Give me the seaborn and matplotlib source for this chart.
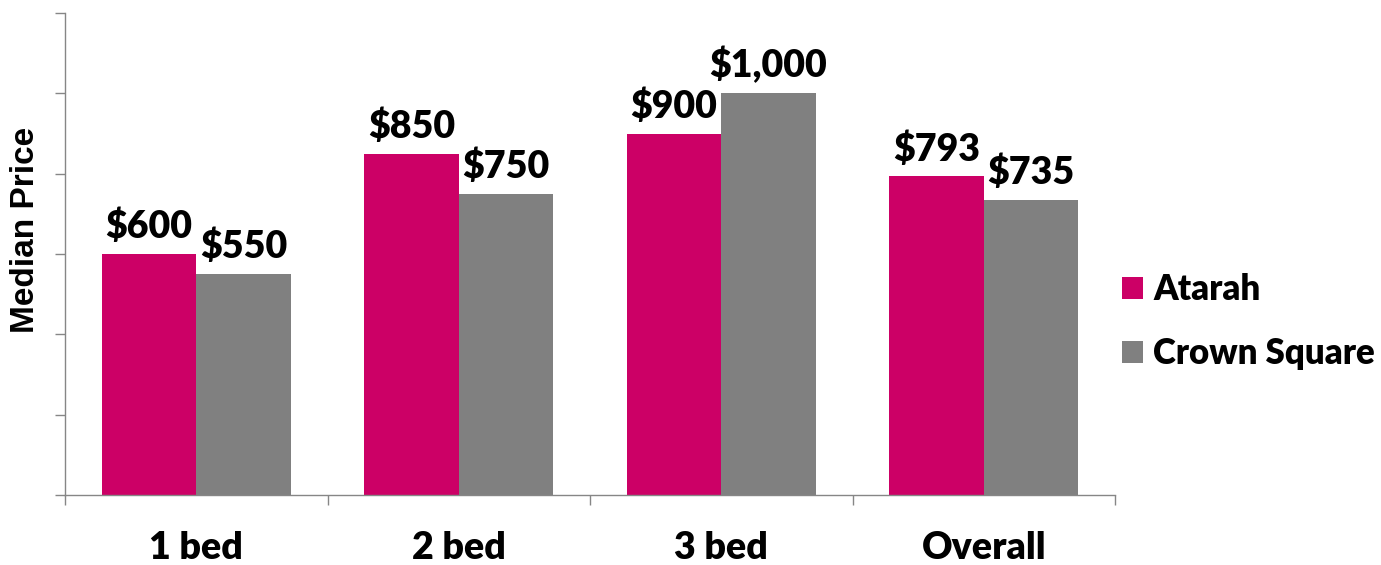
import matplotlib
matplotlib.use("Agg")
import matplotlib.pyplot as plt
import pandas as pd
import seaborn as sns

categories = ["1 bed", "2 bed", "3 bed", "Overall"]
atarah = [600, 850, 900, 793]
crown_square = [550, 750, 1000, 735]
series_names = ["Atarah", "Crown Square"]
colors = ["#CC0066", "#808080"]

df = pd.DataFrame({
    "Bedrooms": categories * 2,
    "Price": atarah + crown_square,
    "Complex": [series_names[0]] * 4 + [series_names[1]] * 4,
})

sns.set_style("white")
plt.rcParams["font.family"] = ["Lato", "DejaVu Sans"]
plt.rcParams["text.color"] = "black"
plt.rcParams["xtick.color"] = "black"

fig = plt.figure(figsize=(13.81, 5.65), dpi=100)
ax = fig.add_axes([65 / 1381, 70 / 565, 1050 / 1381, 482 / 565])

sns.barplot(data=df, x="Bedrooms", y="Price", hue="Complex", palette=colors,
            width=0.72, saturation=1, linewidth=0, ax=ax, legend=True)

for cont in ax.containers:
    ax.bar_label(cont, labels=[f"${v:,.0f}" for v in cont.datavalues],
                 padding=7, fontsize=27, fontweight="heavy", color="black")

ax.set_ylim(0, 1200)
ax.set_xlim(-0.5, 3.5)
ax.set_yticks(range(0, 1201, 200))
ax.set_yticklabels([])
ax.set_xticks([-0.5, 0.5, 1.5, 2.5, 3.5])
ax.set_xticklabels([])
ax.set_xticks(range(4), minor=True)
ax.set_xticklabels(categories, minor=True, fontsize=27, fontweight="heavy")
ax.tick_params(axis="x", which="minor", length=0, pad=26, labelcolor="black")
ax.tick_params(axis="both", which="major", direction="out", length=7,
               width=1, color="#868686", bottom=True, left=True)
for side in ["top", "right"]:
    ax.spines[side].set_visible(False)
for side in ["left", "bottom"]:
    ax.spines[side].set_color("#868686")
    ax.spines[side].set_linewidth(1)

ax.set_xlabel("")
ax.set_ylabel("Median Price", fontsize=24, fontweight="bold", color="black",
              family=["Liberation Sans"])
ax.yaxis.set_label_coords(-0.023, 0.55)

leg = ax.legend(loc="center left", bbox_to_anchor=(1.0, 0.36), frameon=False,
                prop={"size": 25, "weight": "heavy"}, handlelength=0.6,
                handleheight=0.6, handletextpad=0.3, labelspacing=0.9,
                borderpad=0, borderaxespad=0.2)

fig.savefig("out.png", dpi=100)
